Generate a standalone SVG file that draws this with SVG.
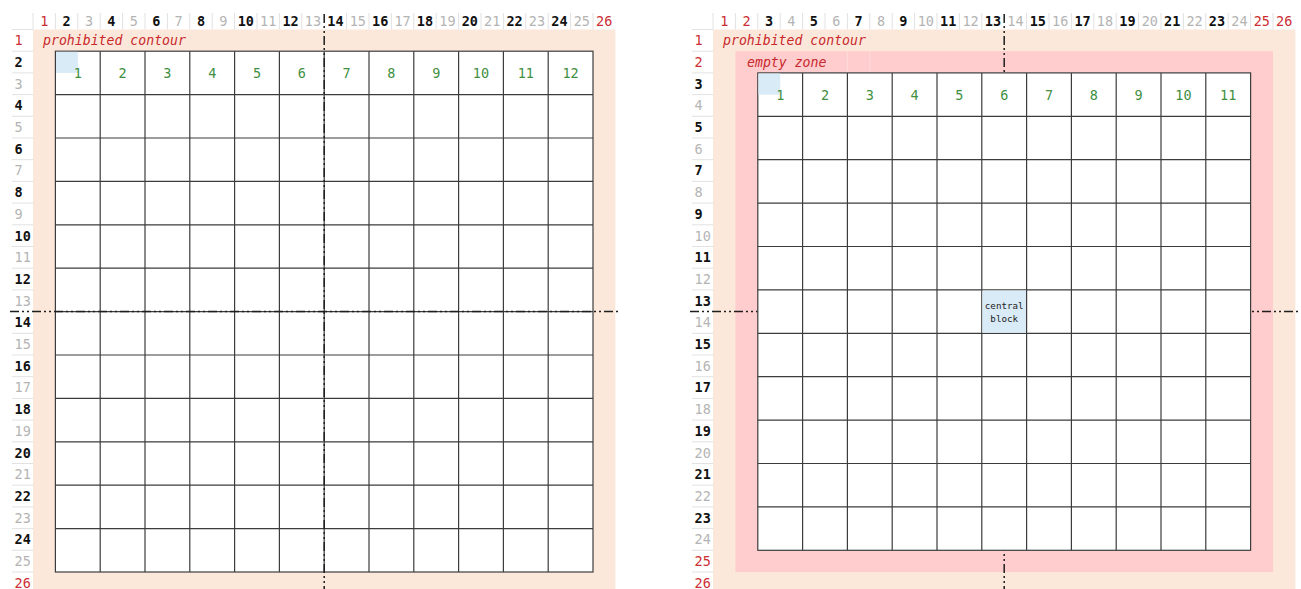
<svg xmlns="http://www.w3.org/2000/svg" xmlns:xlink="http://www.w3.org/1999/xlink" width="1301" height="589" viewBox="0 0 1301 589">
<style>
.peach{fill:#fce8da}
.pink{fill:#ffcdcd}
.blue{fill:#d8ebf6}
.rn{font-family:"DejaVu Sans Mono","Liberation Mono",monospace;font-size:13.5px;text-anchor:middle}
.rr{font-family:"DejaVu Sans Mono","Liberation Mono",monospace;font-size:13.5px;text-anchor:start}
.b{font-weight:bold;fill:#111}
.g{fill:#b4b4b4}
.r{fill:#cc2f33}
.lbl{font-family:"DejaVu Sans Mono","Liberation Mono",monospace;font-size:13.5px;fill:#3f8f3f;text-anchor:middle}
.it{font-family:"DejaVu Sans Mono","Liberation Mono",monospace;font-size:13.2px;font-style:italic;fill:#c8282d}
.sep{stroke:#e2e2e2;stroke-width:1;fill:none}
.grid{fill:#fff;stroke:#3c3c3c;stroke-width:1.2}
.gl{stroke:#3c3c3c;stroke-width:1.2;fill:none}
.axis{stroke:#1e1e1e;stroke-width:1.5;fill:none;stroke-dasharray:9 3 2 3 2 3}
.cb{font-family:"DejaVu Sans Mono","Liberation Mono",monospace;font-size:9.2px;fill:#222;text-anchor:middle}
</style>
<defs>
<g id="seps">
<path class="sep" d="M33 13V29.5M55.4 13V29.5M77.8 13V29.5M100.2 13V29.5M122.6 13V29.5M145 13V29.5M167.4 13V29.5M189.8 13V29.5M212.2 13V29.5M234.6 13V29.5M257 13V29.5M279.4 13V29.5M301.8 13V29.5M346.6 13V29.5M369 13V29.5M391.4 13V29.5M413.8 13V29.5M436.2 13V29.5M458.6 13V29.5M481 13V29.5M503.4 13V29.5M525.8 13V29.5M548.2 13V29.5M570.6 13V29.5M593 13V29.5"/>
<path class="sep" d="M12 29.5H33M12 51.2H33M12 72.9H33M12 94.6H33M12 116.3H33M12 138H33M12 159.7H33M12 181.4H33M12 203.1H33M12 224.8H33M12 246.5H33M12 268.2H33M12 289.9H33M12 333.3H33M12 355H33M12 376.7H33M12 398.4H33M12 420.1H33M12 441.8H33M12 463.5H33M12 485.2H33M12 506.9H33M12 528.6H33M12 550.3H33M12 572H33"/>
</g>
</defs>

<g id="left-panel">
<rect class="peach" x="33" y="29.5" width="582.4" height="560"/>
<use xlink:href="#seps"/>
<text class="it" x="43" y="44.5">prohibited contour</text>
<g id="left-grid">
<rect class="grid" x="55.4" y="51.2" width="537.6" height="520.8"/>
<rect class="blue" x="56" y="51.8" width="21.8" height="21.1"/>
<path class="gl" d="M100.2 51.2V572M145 51.2V572M189.8 51.2V572M234.6 51.2V572M279.4 51.2V572M324.2 51.2V572M369 51.2V572M413.8 51.2V572M458.6 51.2V572M503.4 51.2V572M548.2 51.2V572M55.4 94.6H593M55.4 138H593M55.4 181.4H593M55.4 224.8H593M55.4 268.2H593M55.4 311.6H593M55.4 355H593M55.4 398.4H593M55.4 441.8H593M55.4 485.2H593M55.4 528.6H593"/>
<text class="lbl" x="77.8" y="77.5">1</text><text class="lbl" x="122.6" y="77.5">2</text><text class="lbl" x="167.4" y="77.5">3</text><text class="lbl" x="212.2" y="77.5">4</text><text class="lbl" x="257" y="77.5">5</text><text class="lbl" x="301.8" y="77.5">6</text><text class="lbl" x="346.6" y="77.5">7</text><text class="lbl" x="391.4" y="77.5">8</text><text class="lbl" x="436.2" y="77.5">9</text><text class="lbl" x="481" y="77.5">10</text><text class="lbl" x="525.8" y="77.5">11</text><text class="lbl" x="570.6" y="77.5">12</text>
</g>
<g id="left-col-ruler">
<text class="rn r" x="44.2" y="26">1</text><text class="rn b" x="66.6" y="26">2</text><text class="rn g" x="89" y="26">3</text><text class="rn b" x="111.4" y="26">4</text><text class="rn g" x="133.8" y="26">5</text><text class="rn b" x="156.2" y="26">6</text><text class="rn g" x="178.6" y="26">7</text><text class="rn b" x="201" y="26">8</text><text class="rn g" x="223.4" y="26">9</text><text class="rn b" x="245.8" y="26">10</text><text class="rn g" x="268.2" y="26">11</text><text class="rn b" x="290.6" y="26">12</text><text class="rn g" x="313" y="26">13</text><text class="rn b" x="335.4" y="26">14</text><text class="rn g" x="357.8" y="26">15</text><text class="rn b" x="380.2" y="26">16</text><text class="rn g" x="402.6" y="26">17</text><text class="rn b" x="425" y="26">18</text><text class="rn g" x="447.4" y="26">19</text><text class="rn b" x="469.8" y="26">20</text><text class="rn g" x="492.2" y="26">21</text><text class="rn b" x="514.6" y="26">22</text><text class="rn g" x="537" y="26">23</text><text class="rn b" x="559.4" y="26">24</text><text class="rn g" x="581.8" y="26">25</text><text class="rn r" x="604.2" y="26">26</text>
</g>
<g id="left-row-ruler">
<text class="rr r" x="14.5" y="45.2">1</text><text class="rr b" x="14.5" y="66.9">2</text><text class="rr g" x="14.5" y="88.6">3</text><text class="rr b" x="14.5" y="110.3">4</text><text class="rr g" x="14.5" y="132">5</text><text class="rr b" x="14.5" y="153.7">6</text><text class="rr g" x="14.5" y="175.4">7</text><text class="rr b" x="14.5" y="197.1">8</text><text class="rr g" x="14.5" y="218.8">9</text><text class="rr b" x="14.5" y="240.5">10</text><text class="rr g" x="14.5" y="262.2">11</text><text class="rr b" x="14.5" y="283.9">12</text><text class="rr g" x="14.5" y="305.6">13</text><text class="rr b" x="14.5" y="327.3">14</text><text class="rr g" x="14.5" y="349">15</text><text class="rr b" x="14.5" y="370.7">16</text><text class="rr g" x="14.5" y="392.4">17</text><text class="rr b" x="14.5" y="414.1">18</text><text class="rr g" x="14.5" y="435.8">19</text><text class="rr b" x="14.5" y="457.5">20</text><text class="rr g" x="14.5" y="479.2">21</text><text class="rr b" x="14.5" y="500.9">22</text><text class="rr g" x="14.5" y="522.6">23</text><text class="rr b" x="14.5" y="544.3">24</text><text class="rr g" x="14.5" y="566">25</text><text class="rr r" x="14.5" y="587.7">26</text>
</g>
</g>

<g id="right-panel">
<rect class="peach" x="713" y="29.5" width="582.4" height="560"/>
<rect class="pink" x="735.4" y="51.2" width="537.6" height="520.8"/>
<path d="M847.4 51.2V72.9M869.8 51.2V72.9" stroke="#ffdada" stroke-width="1"/>
<use xlink:href="#seps" x="680"/>
<text class="it" x="723" y="44.5">prohibited contour</text>
<text class="it" x="747" y="66.5">empty zone</text>
<g id="right-col-ruler">
<text class="rn r" x="724.2" y="26">1</text><text class="rn r" x="746.6" y="26">2</text><text class="rn b" x="769" y="26">3</text><text class="rn g" x="791.4" y="26">4</text><text class="rn b" x="813.8" y="26">5</text><text class="rn g" x="836.2" y="26">6</text><text class="rn b" x="858.6" y="26">7</text><text class="rn g" x="881" y="26">8</text><text class="rn b" x="903.4" y="26">9</text><text class="rn g" x="925.8" y="26">10</text><text class="rn b" x="948.2" y="26">11</text><text class="rn g" x="970.6" y="26">12</text><text class="rn b" x="993" y="26">13</text><text class="rn g" x="1015.4" y="26">14</text><text class="rn b" x="1037.8" y="26">15</text><text class="rn g" x="1060.2" y="26">16</text><text class="rn b" x="1082.6" y="26">17</text><text class="rn g" x="1105" y="26">18</text><text class="rn b" x="1127.4" y="26">19</text><text class="rn g" x="1149.8" y="26">20</text><text class="rn b" x="1172.2" y="26">21</text><text class="rn g" x="1194.6" y="26">22</text><text class="rn b" x="1217" y="26">23</text><text class="rn g" x="1239.4" y="26">24</text><text class="rn r" x="1261.8" y="26">25</text><text class="rn r" x="1284.2" y="26">26</text>
</g>
<g id="right-row-ruler">
<text class="rr r" x="694.5" y="45.2">1</text><text class="rr r" x="694.5" y="66.9">2</text><text class="rr b" x="694.5" y="88.6">3</text><text class="rr g" x="694.5" y="110.3">4</text><text class="rr b" x="694.5" y="132">5</text><text class="rr g" x="694.5" y="153.7">6</text><text class="rr b" x="694.5" y="175.4">7</text><text class="rr g" x="694.5" y="197.1">8</text><text class="rr b" x="694.5" y="218.8">9</text><text class="rr g" x="694.5" y="240.5">10</text><text class="rr b" x="694.5" y="262.2">11</text><text class="rr g" x="694.5" y="283.9">12</text><text class="rr b" x="694.5" y="305.6">13</text><text class="rr g" x="694.5" y="327.3">14</text><text class="rr b" x="694.5" y="349">15</text><text class="rr g" x="694.5" y="370.7">16</text><text class="rr b" x="694.5" y="392.4">17</text><text class="rr g" x="694.5" y="414.1">18</text><text class="rr b" x="694.5" y="435.8">19</text><text class="rr g" x="694.5" y="457.5">20</text><text class="rr b" x="694.5" y="479.2">21</text><text class="rr g" x="694.5" y="500.9">22</text><text class="rr b" x="694.5" y="522.6">23</text><text class="rr g" x="694.5" y="544.3">24</text><text class="rr r" x="694.5" y="566">25</text><text class="rr r" x="694.5" y="587.7">26</text>
</g>
</g>

<g id="connectors">
<path class="axis" d="M324.2 14V589"/>
<path class="axis" d="M10 311.6H618"/>
<path class="axis" d="M1004.2 14V589"/>
<path class="axis" d="M690 311.6H1301"/>
</g>

<g id="right-grid">
<rect class="grid" x="757.8" y="72.9" width="492.8" height="477.4"/>
<rect class="blue" x="758.4" y="73.5" width="21.8" height="21.1"/>
<path class="gl" d="M802.6 72.9V550.3M847.4 72.9V550.3M892.2 72.9V550.3M937 72.9V550.3M981.8 72.9V550.3M1026.6 72.9V550.3M1071.4 72.9V550.3M1116.2 72.9V550.3M1161 72.9V550.3M1205.8 72.9V550.3M757.8 116.3H1250.6M757.8 159.7H1250.6M757.8 203.1H1250.6M757.8 246.5H1250.6M757.8 289.9H1250.6M757.8 333.3H1250.6M757.8 376.7H1250.6M757.8 420.1H1250.6M757.8 463.5H1250.6M757.8 506.9H1250.6"/>
<text class="lbl" x="780.2" y="99.5">1</text><text class="lbl" x="825" y="99.5">2</text><text class="lbl" x="869.8" y="99.5">3</text><text class="lbl" x="914.6" y="99.5">4</text><text class="lbl" x="959.4" y="99.5">5</text><text class="lbl" x="1004.2" y="99.5">6</text><text class="lbl" x="1049" y="99.5">7</text><text class="lbl" x="1093.8" y="99.5">8</text><text class="lbl" x="1138.6" y="99.5">9</text><text class="lbl" x="1183.4" y="99.5">10</text><text class="lbl" x="1228.2" y="99.5">11</text>
</g>

<g id="central-block">
<rect class="blue" x="982.4" y="290.5" width="43.6" height="42.2"/>
<text class="cb" x="1004.2" y="308.5">central</text>
<text class="cb" x="1004.2" y="321.5">block</text>
</g>
</svg>
